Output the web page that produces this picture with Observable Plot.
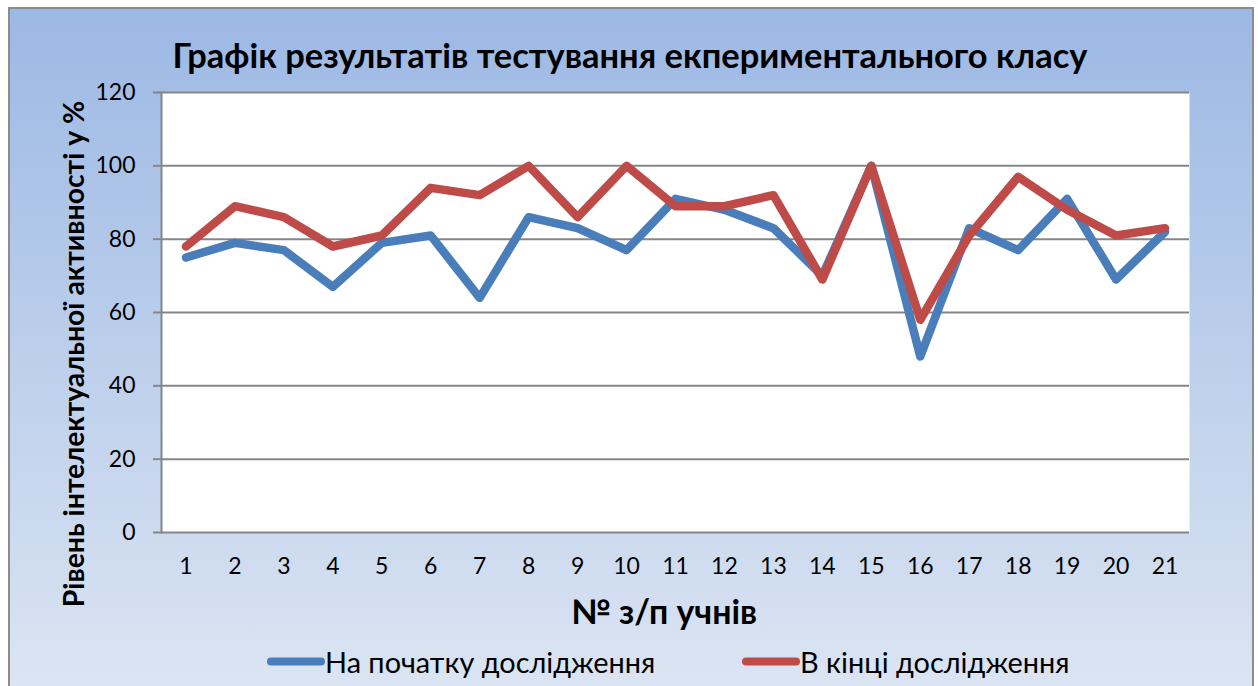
<!DOCTYPE html>
<html>
<head>
<meta charset="utf-8">
<script src="https://cdn.jsdelivr.net/npm/d3@7"></script>
<script src="https://cdn.jsdelivr.net/npm/@observablehq/plot@0.6"></script>
<style>
  body { margin: 0; background: #ffffff; }
  #wrap { position: relative; width: 1258px; height: 686px; overflow: hidden; font-family: Lato, "Open Sans", sans-serif; color: #000; }
  #bg { position: absolute; left: 8px; top: 7px; width: 1242px; height: 700px; border: 2px solid #8c8c8c;
        background: linear-gradient(to bottom, #9cb8e4 0%, #dde6f3 100%); }
  #chart { position: absolute; left: 0; top: 0; }
  .lbl { position: absolute; white-space: nowrap; line-height: 1; transform: translate(-50%, -50%); }
  .bold { font-weight: 700; }
  .legend { position: absolute; display: flex; align-items: center; white-space: nowrap; line-height: 1; transform: translateY(-50%); }
  .swatch { width: 58px; height: 8px; border-radius: 4px; }
</style>
</head>
<body>
<div id="wrap">
  <div id="bg"></div>
  <div id="chart"></div>
</div>
<script>
// ---- data ----
const students = [1, 2, 3, 4, 5, 6, 7, 8, 9, 10, 11, 12, 13, 14, 15, 16, 17, 18, 19, 20, 21];
const atStart = [75, 79, 77, 67, 79, 81, 64, 86, 83, 77, 91, 88, 83, 70, 100, 48, 83, 77, 91, 69, 82];
const atEnd   = [78, 89, 86, 78, 81, 94, 92, 100, 86, 100, 89, 89, 92, 69, 100, 58, 81, 97, 88, 81, 83];
const seriesNames = ["На початку дослідження", "В кінці дослідження"];
const seriesColors = ["#4a7ebb", "#be4b48"];
const yTicks = [0, 20, 40, 60, 80, 100, 120];
const titleText = "Графік результатів тестування екпериментального класу";
const yLabelText = "Рівень інтелектуальної активності у %";
const xLabelText = "№ з/п учнів";

const rows = [];
students.forEach((s, i) => rows.push({ s, v: atStart[i], series: seriesNames[0] }));
students.forEach((s, i) => rows.push({ s, v: atEnd[i], series: seriesNames[1] }));

const grid = "#868686";
const plot = Plot.plot({
  width: 1258,
  height: 686,
  marginLeft: 161,
  marginRight: 69,
  marginTop: 92,
  marginBottom: 154,
  style: { background: "transparent", fontFamily: "Lato, 'Open Sans', sans-serif", fontSize: "23px", color: "#000", overflow: "visible" },
  x: { type: "point", domain: students, padding: 0.5, round: false, label: null },
  y: { domain: [0, 120], label: null },
  color: { domain: seriesNames, range: seriesColors },
  marks: [
    Plot.frame({ fill: "white", stroke: null }),
    Plot.ruleY(yTicks, { stroke: grid, strokeWidth: 2, strokeOpacity: 1 }),
    Plot.frame({ anchor: "left", stroke: grid, strokeWidth: 2, strokeOpacity: 1 }),
    Plot.axisY({ ticks: yTicks, tickSize: 8, tickPadding: 18, stroke: grid, strokeWidth: 2, strokeOpacity: 1, fill: "#000", fontSize: 23, label: null }),
    Plot.axisX({ tickSize: 0, tickPadding: 25, fill: "#000", fontSize: 23, label: null }),
    Plot.line(rows, { x: "s", y: "v", stroke: "series", z: "series", strokeWidth: 8.5, strokeLinecap: "round", strokeLinejoin: "round" })
  ]
});
document.getElementById("chart").appendChild(plot);

// ---- text overlays ----
const wrap = document.getElementById("wrap");
function addLabel(text, cx, cy, size, bold, targetWidth, rotate) {
  const el = document.createElement("div");
  el.className = "lbl" + (bold ? " bold" : "");
  el.textContent = text;
  el.style.left = cx + "px";
  el.style.top = cy + "px";
  el.style.fontSize = size + "px";
  wrap.appendChild(el);
  if (targetWidth) {
    const w = el.offsetWidth;
    el.style.fontSize = (size * targetWidth / w) + "px";
  }
  if (rotate) el.style.transform = "translate(-50%, -50%) rotate(-90deg)";
  return el;
}
addLabel(titleText, 630, 55, 31, true, 915);
addLabel(yLabelText, 73, 354, 25, true, 507, true);
addLabel(xLabelText, 664, 612, 25, true, 187);

function addLegend(name, color, left, cy, textWidth) {
  const item = document.createElement("div");
  item.className = "legend";
  item.style.left = left + "px";
  item.style.top = cy + "px";
  const sw = document.createElement("div");
  sw.className = "swatch";
  sw.style.background = color;
  const tx = document.createElement("span");
  tx.textContent = name;
  tx.style.fontSize = "26px";
  item.appendChild(sw);
  item.appendChild(tx);
  wrap.appendChild(item);
  const w = tx.offsetWidth;
  tx.style.fontSize = (26 * textWidth / w) + "px";
}
addLegend(seriesNames[0], seriesColors[0], 267, 662, 330);
addLegend(seriesNames[1], seriesColors[1], 742, 662, 270);
</script>
</body>
</html>
